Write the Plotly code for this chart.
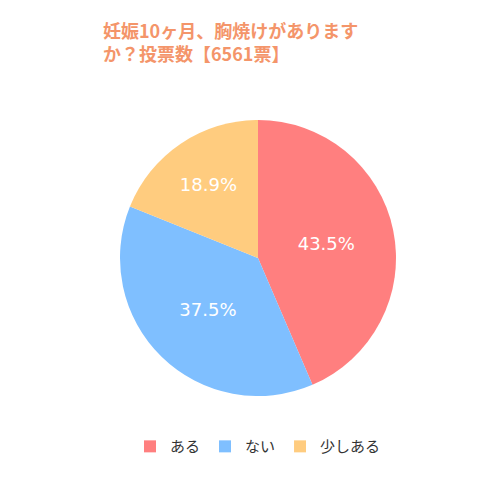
import plotly.graph_objects as go

labels = ["ある", "ない", "少しある"]
values = [43.5, 37.5, 18.9]
colors = ["#ff7f7f", "#7fbfff", "#ffcc7f"]
title_lines = ["妊娠10ヶ月、胸焼けがあります", "か？投票数【6561票】"]

fig = go.Figure(go.Pie(
    labels=labels, values=values, sort=False, direction="clockwise", rotation=0,
    marker=dict(colors=colors, line=dict(color="white", width=0)),
    texttemplate="%{value:.1f}%", textposition="inside",
    insidetextfont=dict(color="white", size=18, family="DejaVu Sans"),
    domain=dict(x=[0.18, 0.82], y=[0.2, 0.8]),
    hoverinfo="label+percent",
))
fig.update_layout(
    width=500, height=500, paper_bgcolor="white", plot_bgcolor="white",
    margin=dict(l=20, r=20, t=20, b=20),
    title=dict(text="<br>".join(title_lines),
               x=0.19, xanchor="left", y=0.94, yanchor="top",
               font=dict(color="#f4956a", size=18, family="Noto Sans CJK JP", weight="bold")),
    legend=dict(orientation="h", x=0.5, xanchor="center", y=0.09, yanchor="middle",
                font=dict(size=15, color="#333", family="Noto Sans CJK JP")),
)
fig.write_html("out.html")
